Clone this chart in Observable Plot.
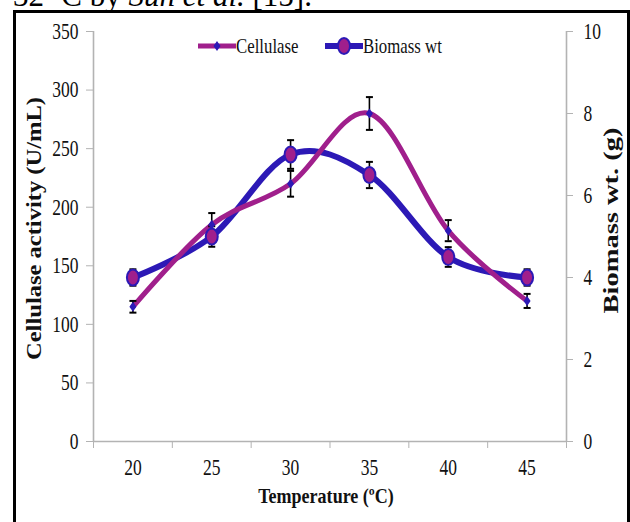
<!DOCTYPE html>
<html><head><meta charset="utf-8">
<script src="https://cdn.jsdelivr.net/npm/d3@7"></script>
<script src="https://cdn.jsdelivr.net/npm/@observablehq/plot@0.6"></script>
<style>
html,body{margin:0;padding:0;background:#fff;}
body{width:630px;height:522px;overflow:hidden;position:relative;font-family:"Liberation Serif","Times New Roman",serif;}
#frame{position:absolute;left:13px;top:10px;width:617px;height:600px;border:3px solid #000;box-sizing:border-box;}
#chart{position:absolute;left:0;top:0;}
#top{position:absolute;left:0;top:0;}
#legend{position:absolute;left:198px;top:35px;height:22px;display:flex;align-items:center;font-size:21px;color:#111;white-space:nowrap;}
#legend .item{display:flex;align-items:center;white-space:nowrap;}
#legend .lab{display:inline-block;transform:scaleX(0.8);transform-origin:left center;white-space:nowrap;}
</style></head>
<body>
<div id="chart"></div>
<div id="frame"></div>
<svg id="top" width="630" height="12"><text x="13" y="6" font-size="31" font-family="Liberation Serif" fill="#000">32 ºC by <tspan font-style="italic">Sun et al.</tspan> [15].</text></svg>
<div id="legend"></div>
<script>
const temps = [20, 25, 30, 35, 40, 45];
const cellulase = [115, 185, 220, 280, 180, 120];
const cellulaseErr = [5, 10, 11, 14, 9, 6];
const biomass = [4.0, 5.0, 7.0, 6.5, 4.5, 4.0];
const biomassErr = [0.2, 0.25, 0.35, 0.32, 0.24, 0.2];
const leftTicks = [0, 50, 100, 150, 200, 250, 300, 350];
const rightTicks = [0, 2, 4, 6, 8, 10];
const xEdges = [17.5, 22.5, 27.5, 32.5, 37.5, 42.5, 47.5];
const seriesNames = ["Cellulase", "Biomass wt"];
const K = 35; // 10 g on the right axis = 350 U/mL on the left axis

const magenta = "#a01f8c", blue = "#2c19b6", grey = "#b3b3b3";

const rows = temps.map((t, i) => ({t, c: cellulase[i], ce: cellulaseErr[i], b: biomass[i] * K, be: biomassErr[i] * K}));

const ellipse = {draw(ctx) {
  const rx = 6, ry = 8, k = 0.5523;
  ctx.moveTo(rx, 0);
  ctx.bezierCurveTo(rx, ry * k, rx * k, ry, 0, ry);
  ctx.bezierCurveTo(-rx * k, ry, -rx, ry * k, -rx, 0);
  ctx.bezierCurveTo(-rx, -ry * k, -rx * k, -ry, 0, -ry);
  ctx.bezierCurveTo(rx * k, -ry, rx, -ry * k, rx, 0);
  ctx.closePath();
}};
const diamond = {draw(ctx) {
  ctx.moveTo(0, -5); ctx.lineTo(3.5, 0); ctx.lineTo(0, 5); ctx.lineTo(-3.5, 0); ctx.closePath();
}};
const cap = {draw(ctx) { ctx.moveTo(-3.5, 0); ctx.lineTo(3.5, 0); }};
const smooth = d3.curveCatmullRom.alpha(0);

const plot = Plot.plot({
  width: 630, height: 522,
  marginLeft: 93, marginRight: 64, marginTop: 31, marginBottom: 81,
  x: {domain: [17.5, 47.5]},
  y: {domain: [0, 350]},
  style: {fontFamily: "Liberation Serif", fontSize: "23px", color: "#111", background: "transparent", overflow: "visible"},
  marks: [
    Plot.ruleY([0], {stroke: grey, strokeWidth: 1.6}),
    Plot.ruleX([17.5, 47.5], {stroke: grey, strokeWidth: 1.6}),
    Plot.axisY(leftTicks, {anchor: "left", tickSize: 7, tickPadding: 8, stroke: grey, label: null, className: "tk"}),
    Plot.axisY(rightTicks.map(d => d * K), {anchor: "right", tickSize: 6, tickPadding: 11, stroke: grey, tickFormat: d => String(d / K), label: null, className: "tk"}),
    Plot.axisX(xEdges, {anchor: "bottom", tickSize: 7, tickFormat: () => "", stroke: grey, label: null}),
    Plot.axisX(temps, {anchor: "bottom", tickSize: 0, tickPadding: 17, label: null, className: "tk"}),
    Plot.text(["Cellulase activity (U/mL)"], {frameAnchor: "left", textAnchor: "middle", dx: -60, dy: -8, rotate: -90, fontWeight: "bold", fontSize: 22, className: "ttlL"}),
    Plot.text(["Biomass wt. (g)"], {frameAnchor: "right", textAnchor: "middle", dx: 44, dy: -16, rotate: -90, fontWeight: "bold", fontSize: 22, className: "ttlR"}),
    Plot.text(["Temperature (ºC)"], {frameAnchor: "bottom", dx: -4, dy: 61, fontWeight: "bold", fontSize: 22, className: "ttlx"}),
    Plot.line(rows, {x: "t", y: "b", curve: smooth, stroke: blue, strokeWidth: 6}),
    Plot.line(rows, {x: "t", y: "c", curve: smooth, stroke: magenta, strokeWidth: 5}),
    Plot.ruleX(rows, {x: "t", y1: d => d.c - d.ce, y2: d => d.c + d.ce, stroke: "#000", strokeWidth: 1.6}),
    Plot.ruleX(rows, {x: "t", y1: d => d.b - d.be, y2: d => d.b + d.be, stroke: "#000", strokeWidth: 1.6}),
    Plot.dot(rows, {x: "t", y: d => d.c + d.ce, symbol: cap, stroke: "#000", strokeWidth: 2}),
    Plot.dot(rows, {x: "t", y: d => d.c - d.ce, symbol: cap, stroke: "#000", strokeWidth: 2}),
    Plot.dot(rows, {x: "t", y: d => d.b + d.be, symbol: cap, stroke: "#000", strokeWidth: 2}),
    Plot.dot(rows, {x: "t", y: d => d.b - d.be, symbol: cap, stroke: "#000", strokeWidth: 2}),
    Plot.dot(rows, {x: "t", y: "b", symbol: ellipse, fill: magenta, stroke: blue, strokeWidth: 2}),
    Plot.dot(rows, {x: "t", y: "c", symbol: diamond, fill: blue, stroke: "none"})
  ]
});
document.getElementById("chart").appendChild(plot);

function condense(sel, s) {
  plot.querySelectorAll(sel + " text").forEach(t => {
    const L = t.getComputedTextLength();
    if (L > 0) { t.setAttribute("textLength", L * s); t.setAttribute("lengthAdjust", "spacingAndGlyphs"); }
  });
}
function fitTo(sel, len) {
  plot.querySelectorAll(sel + " text").forEach(t => {
    t.setAttribute("textLength", len); t.setAttribute("lengthAdjust", "spacingAndGlyphs");
  });
}
condense(".tk", 0.76);
condense(".ttlx", 0.82);
fitTo(".ttlL", 263);
fitTo(".ttlR", 186);

// legend
const leg = document.getElementById("legend");
const sw = [
  `<svg width="38" height="16"><line x1="0" y1="8" x2="38" y2="8" stroke="${magenta}" stroke-width="5"/><path d="M19,3L22.5,8L19,13L15.5,8Z" fill="${blue}"/></svg>`,
  `<svg width="38" height="18"><line x1="0" y1="9" x2="38" y2="9" stroke="${blue}" stroke-width="6"/><ellipse cx="19" cy="9" rx="6" ry="8" fill="${magenta}" stroke="${blue}" stroke-width="2"/></svg>`
];
leg.innerHTML = seriesNames.map((n, i) => `<span class="item" style="margin-right:${i === 0 ? 21 : 0}px">${sw[i]}<span class="lab" style="width:${i === 0 ? 68 : 88}px">${n}</span></span>`).join("");
</script>
</body></html>
